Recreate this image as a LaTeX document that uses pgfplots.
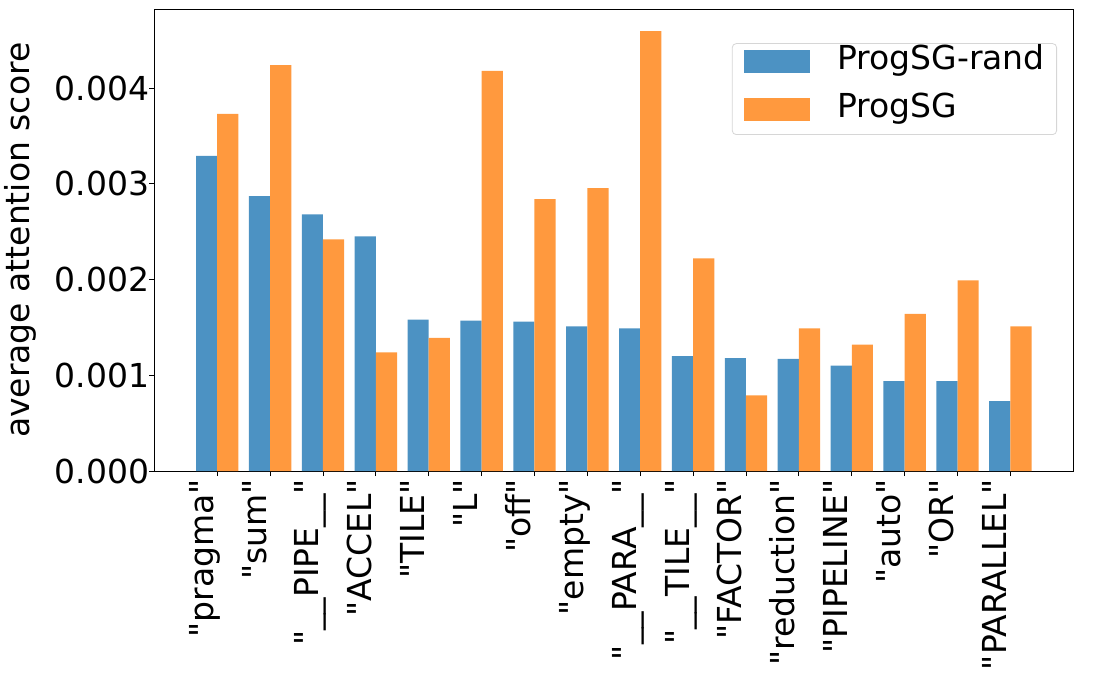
\documentclass[border=0pt]{standalone}
\usepackage{fontspec}
\setmainfont{DejaVu Sans}
\usepackage{pgfplots}
\pgfplotsset{compat=1.18}
\definecolor{cblue}{RGB}{76,146,195}
\definecolor{corange}{RGB}{255,153,62}
\definecolor{lgray}{RGB}{214,214,214}
\newcommand{\q}{\textquotedbl}
\begin{document}
\begin{tikzpicture}
\begin{axis}[name=ax, scale only axis, width=919pt, height=461.5pt,
  xmin=-1.19, xmax=16.19, ymin=0, ymax=0.00482,
  ybar=0pt, bar width=0.4,
  xtick={0,1,2,3,4,5,6,7,8,9,10,11,12,13,14,15},
  xticklabels={{\q pragma\q},{\q sum\q},{\q\_\_PIPE\_\_\q},{\q ACCEL\q},{\q TILE\q},{\q L\q},{\q off\q},{\q empty\q},{\q\_\_PARA\_\_\q},{\q\_\_TILE\_\_\q},{\q FACTOR\q},{\q reduction\q},{\q PIPELINE\q},{\q auto\q},{\q OR\q},{\q PARALLEL\q}},
  ytick={0,0.001,0.002,0.003,0.004},
  scaled y ticks=false,
  /pgf/number format/fixed, /pgf/number format/fixed zerofill, /pgf/number format/precision=3, /pgf/number format/assume math mode=true,
  xtick pos=bottom, ytick pos=left,
  tick align=outside, major tick length=5pt,
  tick style={black, line width=0.8pt},
  axis line style={line width=0.8pt},
  font=\fontsize{33}{40}\selectfont,
  ticklabel style={font=\fontsize{33}{40}\selectfont},
  xticklabel style={xshift=-4pt, yshift=-3pt, rotate=90, anchor=base east, inner sep=0pt},
  yticklabel style={inner sep=0pt},
  ylabel={average attention score},
  ylabel style={at={(axis description cs:-0.128,0.5)}, anchor=south, inner sep=0pt, font=\fontsize{33}{40}\selectfont},
  legend style={at={(0.9823,0.927)}, anchor=north east, draw=lgray, line width=0.8pt, rounded corners=4pt, font=\fontsize{33}{40}\selectfont, inner xsep=12pt, inner ysep=5pt, row sep=15pt, nodes={inner sep=0pt, text height=21pt, text depth=12pt}},
  legend cell align=left,
  legend image code/.code={\fill[#1,draw=none,sharp corners] (0pt,-8pt) rectangle (66pt,15pt); \path (93pt,0pt);},
]
\addplot[fill=cblue, draw=none, bar shift=-0.2] coordinates {
(0,0.00329) (1,0.00287) (2,0.00268) (3,0.00245) (4,0.00158) (5,0.00157) (6,0.00156) (7,0.00151)
(8,0.00149) (9,0.00120) (10,0.00118) (11,0.00117) (12,0.00110) (13,0.00094) (14,0.00094) (15,0.00073)};
\addlegendentry{ProgSG-rand}
\addplot[fill=corange, draw=none, bar shift=0.2] coordinates {
(0,0.00373) (1,0.00424) (2,0.00242) (3,0.00124) (4,0.00139) (5,0.00418) (6,0.00284) (7,0.002955)
(8,0.004595) (9,0.00222) (10,0.00079) (11,0.00149) (12,0.00132) (13,0.00164) (14,0.00199) (15,0.00151)};
\addlegendentry{ProgSG}
\end{axis}
\pgfresetboundingbox
\path[use as bounding box] ([shift={(-154.3pt,-213pt)}]ax.south west) rectangle ([shift={(20.7pt,9.5pt)}]ax.north east);
\end{tikzpicture}
\end{document}
